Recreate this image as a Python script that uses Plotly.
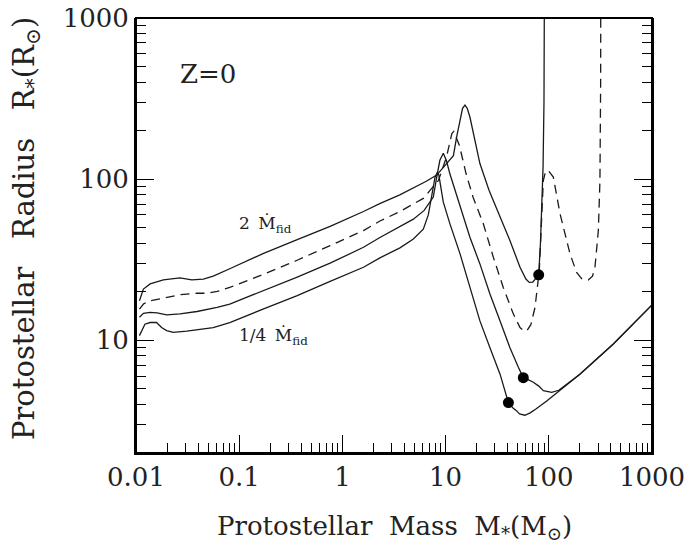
import numpy as np
import plotly.graph_objects as go

# protostellar mass (Msun) and radius (Rsun) read off the Z=0 figure
# 2 x fiducial accretion rate (top solid)
m_2fid = [0.0108, 0.0118, 0.0137, 0.0184, 0.0267, 0.0347, 0.045, 0.056, 0.081, 0.17,
          0.36, 0.76, 1.6, 2.3, 3.6, 4.9, 6.5, 8.2, 10.6, 11.9, 12.8, 13.8, 14.6, 15.4,
          16.2, 17.2, 19.3, 21.5, 26.4, 34, 42, 52.6, 60, 64.7, 70, 76, 79.8, 83, 86,
          88, 89.8, 90.6, 90.8]
r_2fid = [17.6, 20.8, 22.4, 23.7, 24.4, 23.7, 24.0, 25.0, 27.8, 34.5,
          42, 51, 63, 70.5, 80, 88, 97, 106, 128, 140, 183, 238, 275, 288,
          275, 243, 174, 125, 85, 58, 41.6, 28.4, 24, 22.9, 23.0, 24.5, 25.5, 40, 70,
          120, 300, 1000, 2000]

# fiducial accretion rate (dashed)
m_fid = [0.0108, 0.0118, 0.0137, 0.0184, 0.0267, 0.039, 0.048, 0.061, 0.081, 0.17,
         0.36, 0.76, 1.6, 2.31, 3.61, 6.08, 8.5, 10.2, 10.6, 11.5, 12.0, 13.6, 15.8,
         18.5, 23.2, 29, 36.2, 45.3, 52.6, 57, 61, 67, 73.5, 80.9, 85, 88.5, 93, 98.9,
         110.6, 128.5, 160.5, 186, 210, 241, 265, 280, 302, 313, 318, 319]
r_fid = [15.6, 16.8, 17.6, 18.3, 19.2, 19.6, 19.6, 20.1, 21.3, 25.6,
         31.3, 38.7, 48.0, 55, 63, 76, 98, 137, 155, 192, 198, 162, 108,
         77, 52.9, 32.8, 21.3, 14.6, 12.0, 11.5, 11.4, 12.5, 16.0, 27.1, 55, 98, 112, 113,
         103, 61, 34.4, 26.4, 24, 23.7, 25, 28.4, 48, 98, 400, 2000]

# 1/2 fiducial (solid)
m_half = [0.0108, 0.0118, 0.0137, 0.016, 0.0198, 0.0267, 0.039, 0.061, 0.081, 0.17,
          0.36, 0.76, 1.6, 2.31, 3.61, 4.87, 6.2, 7.6, 8.2, 8.8, 9.5, 10.2, 11.0,
          13.8, 17.2, 21.5, 26.9, 33.7, 42, 50.7, 56.6, 63, 70.8, 80, 88.5, 106.6, 125,
          200, 422, 1000]
r_half = [13.9, 14.7, 14.9, 14.8, 14.4, 14.6, 15.1, 16.0, 16.8, 20.3,
          24.6, 30.1, 37.8, 43.5, 50.5, 56.5, 64, 77.5, 103, 131, 145, 130, 108,
          67.2, 43.6, 29.8, 19.4, 13.2, 9.0, 6.8, 5.87, 5.7, 5.5, 5.2, 4.87, 4.75, 4.9,
          6.17, 9.5, 16.6]

# 1/4 fiducial (bottom solid)
m_quarter = [0.0108, 0.0122, 0.0137, 0.0158, 0.0177, 0.0198, 0.023, 0.031, 0.056, 0.081,
             0.17, 0.36, 0.76, 1.6, 2.31, 3.61, 4.87, 6.08, 6.8, 7.3, 7.9, 8.3, 8.6,
             9.5, 11.0, 13.8, 17.2, 21.5, 26.9, 33.7, 40.6, 45, 48.9, 52, 58.7, 66, 75,
             95.5, 200, 422, 1000]
r_quarter = [10.7, 12.6, 12.9, 12.9, 12.0, 11.5, 11.2, 11.4, 12.0, 12.9,
             15.6, 18.9, 23.2, 28.4, 32.5, 37.5, 42.5, 49, 60, 78, 103, 110, 106,
             72, 53, 34.4, 21.3, 13.2, 9.0, 6.17, 4.11, 3.8, 3.65, 3.5, 3.43, 3.55, 3.75,
             4.21, 6.17, 9.5, 16.6]

# filled circles
dot_m = [79.8, 56.6, 40.6]
dot_r = [25.5, 5.87, 4.11]

FONT = "DejaVu Serif"
INK = "#1a1a1a"
TXT = "#222222"

fig = go.Figure()
line_sets = [
    (m_2fid, r_2fid, "solid"),
    (m_fid, r_fid, "9px,6px"),
    (m_half, r_half, "solid"),
    (m_quarter, r_quarter, "solid"),
]
for mm, rr, dash in line_sets:
    fig.add_trace(go.Scatter(x=mm, y=rr, mode="lines",
                             line=dict(color=INK, width=1.3, dash=dash),
                             showlegend=False, hoverinfo="skip"))

# the dots sit on the right-hand twin y axis (same range), so its ticks get drawn
fig.add_trace(go.Scatter(x=dot_m, y=dot_r, mode="markers", xaxis="x", yaxis="y2",
                         marker=dict(color="black", size=11), showlegend=False))

x_range = [-2, 3]
y_range = [np.log10(2), 3]

tick_style = dict(type="log", showline=True, linecolor="black", linewidth=2,
                  ticks="inside", ticklen=18, tickcolor="#000000", tickwidth=1,
                  showgrid=False, zeroline=False, automargin=False,
                  dtick=1, exponentformat="none",
                  minor=dict(ticks="inside", ticklen=10, tickcolor="#000000", dtick="D1",
                             showgrid=False))

fig.update_layout(
    xaxis=dict(range=x_range, ticklabeloverflow="allow",
               tickfont=dict(family=FONT, size=26, color=TXT), **tick_style),
    yaxis=dict(range=y_range, ticklabeloverflow="allow",
               tickfont=dict(family=FONT, size=26, color=TXT), **tick_style),
    yaxis2=dict(range=y_range, overlaying="y", side="right", anchor="x",
                showticklabels=False, **tick_style),
)

# frame around the plot area
fig.add_shape(type="rect", xref="paper", yref="paper", x0=0, y0=0, x1=1, y1=1,
              line=dict(color="black", width=2), fillcolor="rgba(0,0,0,0)")

# axis titles
fig.add_annotation(xref="paper", yref="paper", x=0.5, y=-0.172, yanchor="middle",
                   text="Protostellar  Mass  M<sub>*</sub>(M<sub>⊙</sub>)", showarrow=False,
                   font=dict(family=FONT, size=26, color=TXT))
fig.add_annotation(xref="paper", yref="paper", x=-0.213, y=0.515, xanchor="center",
                   yanchor="middle", textangle=-90,
                   text="Protostellar   Radius   R<sub>*</sub>(R<sub>⊙</sub>)", showarrow=False,
                   font=dict(family=FONT, size=29, color=TXT))

# labels inside the plot
fig.add_annotation(x=-1.593, y=2.655, text="Z=0", showarrow=False,
                   xanchor="left", yanchor="middle",
                   font=dict(family=FONT, size=26, color=TXT))
fig.add_annotation(x=-1.021, y=1.72, text="2\u2002Ṁ<sub>fid</sub>", showarrow=False,
                   xanchor="left", yanchor="middle",
                   font=dict(family=FONT, size=17, color=TXT))
fig.add_annotation(x=-1.021, y=1.022, text="1/4\u2002Ṁ<sub>fid</sub>", showarrow=False,
                   xanchor="left", yanchor="middle",
                   font=dict(family=FONT, size=17, color=TXT))

# the page body adds an 8px offset, so the figure is 8px smaller on each side
fig.update_layout(width=684, height=546, margin=dict(l=128, r=40, t=10, b=101),
                  plot_bgcolor="white", paper_bgcolor="white")

fig.write_html("out.html")
